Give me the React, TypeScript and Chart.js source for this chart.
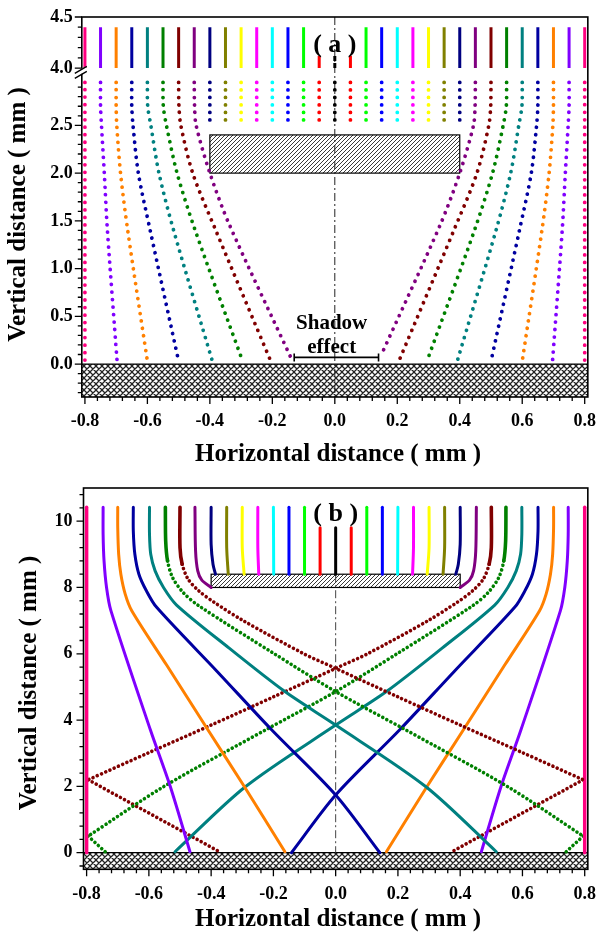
import React, { useEffect, useRef } from 'react';
import { Chart, registerables } from 'chart.js';

Chart.register(...registerables);

type P = [number, number];

// ---------- shared ----------
const PALETTE = ['#000000', '#FF0000', '#00FF00', '#0000FF', '#00FFFF', '#FF00FF', '#FFFF00', '#808000', '#000080', '#800080', '#800000', '#008000', '#008080', '#0000A0', '#FF8000', '#8000FF', '#FF0080'];
const X_MAJOR = [-0.8, -0.6, -0.4, -0.2, 0, 0.2, 0.4, 0.6, 0.8];
const X_MINOR = Array.from({ length: 41 }, (_, i) => -0.8 + i * 0.04);
const X_TITLE = 'Horizontal distance ( mm )';
const Y_TITLE = 'Vertical distance ( mm )';

// ---------- chart (a) ----------
const A_Y_MAJOR = [0, 0.5, 1.0, 1.5, 2.0, 2.5, 4.0, 4.5];
const A_Y_MINOR = [
  ...Array.from({ length: 33 }, (_, i) => -0.3 + i * 0.1),
  4.1, 4.2, 4.3, 4.4,
];
const A_TOP_X = [-0.8, -0.75, -0.7, -0.65, -0.6, -0.55, -0.5, -0.45, -0.4, -0.35, -0.3, -0.25, -0.2, -0.15, -0.1, -0.05, 0, 0.05, 0.1, 0.15, 0.2, 0.25, 0.3, 0.35, 0.4, 0.45, 0.5, 0.55, 0.6, 0.65, 0.7, 0.75, 0.8];
const A_TOP_FROM = 4.0;
const A_TOP_TO = [4.4, 4.4, 4.4, 4.4, 4.4, 4.4, 4.4, 4.4, 4.4, 4.4, 4.4, 4.4, 4.4, 4.4, 4.4, 4.12, 4.12, 4.12, 4.4, 4.4, 4.4, 4.4, 4.4, 4.4, 4.4, 4.4, 4.4, 4.4, 4.4, 4.4, 4.4, 4.4, 4.4];
const A_INNER_X = [-0.4, -0.35, -0.3, -0.25, -0.2, -0.15, -0.1, -0.05, 0, 0.05, 0.1, 0.15, 0.2, 0.25, 0.3, 0.35, 0.4];
const A_INNER_TOP = 2.95;
const A_INNER_BOTTOM = 2.5;
const A_OUTER_LEFT: P[][] = [
  [[-0.8, 2.95], [-0.8, 0.0]],
  [[-0.75, 2.95], [-0.75, 2.7], [-0.747, 2.5], [-0.738, 2.0], [-0.728, 1.4], [-0.697, 0.03]],
  [[-0.7, 2.95], [-0.7, 2.7], [-0.698, 2.5], [-0.686, 2.0], [-0.663, 1.4], [-0.6, 0.03]],
  [[-0.65, 2.95], [-0.65, 2.7], [-0.646, 2.5], [-0.629, 2.0], [-0.591, 1.4], [-0.5, 0.03]],
  [[-0.6, 2.95], [-0.599, 2.7], [-0.589, 2.5], [-0.563, 2.0], [-0.516, 1.4], [-0.392, 0.03]],
  [[-0.55, 2.95], [-0.549, 2.7], [-0.539, 2.5], [-0.505, 2.0], [-0.447, 1.4], [-0.295, 0.03]],
  [[-0.5, 2.95], [-0.499, 2.7], [-0.493, 2.5], [-0.455, 2.0], [-0.381, 1.4], [-0.205, 0.03]],
  [[-0.45, 2.95], [-0.449, 2.7], [-0.444, 2.5], [-0.4, 2.0], [-0.337, 1.455], [-0.142, 0.077]],
];
const A_OUTER_RIGHT: P[][] = [
  [[0.8, 2.95], [0.8, 0.0]],
  [[0.75, 2.95], [0.75, 2.7], [0.747, 2.5], [0.738, 2.0], [0.728, 1.4], [0.697, 0.03]],
  [[0.7, 2.95], [0.7, 2.7], [0.698, 2.5], [0.686, 2.0], [0.663, 1.4], [0.6, 0.03]],
  [[0.65, 2.95], [0.65, 2.7], [0.646, 2.5], [0.629, 2.0], [0.591, 1.4], [0.5, 0.03]],
  [[0.6, 2.95], [0.599, 2.7], [0.589, 2.5], [0.563, 2.0], [0.516, 1.4], [0.392, 0.03]],
  [[0.55, 2.95], [0.549, 2.7], [0.539, 2.5], [0.505, 2.0], [0.447, 1.4], [0.295, 0.03]],
  [[0.5, 2.95], [0.499, 2.7], [0.493, 2.5], [0.455, 2.0], [0.381, 1.4], [0.205, 0.03]],
  [[0.45, 2.95], [0.449, 2.7], [0.444, 2.5], [0.4, 2.0], [0.337, 1.455], [0.148, 0.09]],
];
const A_PLATE = { x: [-0.4, 0.4], y: [2.0, 2.4] };
const A_SUBSTRATE_TOP = 0;
const A_LABEL = { text: '( a )', x: 0, y: 4.225 };
const A_SHADOW_TEXT = ['Shadow', 'effect'];
const A_SHADOW_TEXT_Y = [0.426, 0.168];
const A_SHADOW_BRACKET = { x: [-0.13, 0.14], y: 0.07 };

// broken y-axis of (a): 4.0..4.5 shown just above 3.0
const T = (y: number) => (y > 3.5 ? 3.1 + (y - 4) * 1.07 : y);
const TINV = (v: number) => (v > 3.05 ? 4 + (v - 3.1) / 1.07 : v);

// ---------- chart (b) ----------
const B_Y_MAJOR = [0, 2, 4, 6, 8, 10];
const B_Y_MINOR = Array.from({ length: 29 }, (_, i) => -0.4 + i * 0.4);
const B_PATHS: P[][] = [
  // left-origin
  [[-0.8, 10.42], [-0.8, 0.0]],
  [[-0.747, 10.42], [-0.747, 9.6], [-0.744, 8.8], [-0.736, 8.0], [-0.722, 7.3], [-0.595, 3.7], [-0.531, 1.99], [-0.468, 0.03]],
  [[-0.7, 10.42], [-0.7, 9.8], [-0.697, 9.0], [-0.69, 8.4], [-0.676, 7.8], [-0.655, 7.3], [-0.543, 5.66], [-0.41, 3.7], [-0.293, 1.99], [-0.163, 0.03]],
  [[-0.65, 10.42], [-0.65, 9.7], [-0.645, 9.0], [-0.632, 8.4], [-0.608, 7.9], [-0.575, 7.4], [-0.38, 5.46], [-0.205, 3.7], [0, 1.74], [0.142, 0.0]],
  [[-0.598, 10.42], [-0.598, 9.6], [-0.594, 9.0], [-0.58, 8.5], [-0.553, 8.0], [-0.511, 7.47], [-0.342, 6.17], [-0.163, 4.86], [0, 3.85], [0.29, 1.99], [0.516, 0.03]],
  [[-0.547, 10.42], [-0.546, 9.4], [-0.54, 8.8], [-0.524, 8.3], [-0.49, 7.85], [-0.44, 7.45], [-0.197, 6.0], [0, 4.86], [0.226, 3.7], [0.553, 1.99], [0.795, 0.5]],
  [[-0.5, 10.42], [-0.5, 9.2], [-0.493, 8.7], [-0.474, 8.25], [-0.44, 7.9], [-0.39, 7.55], [-0.297, 7.0], [-0.102, 6.0], [0, 5.56], [0.2, 4.7], [0.4, 3.85], [0.6, 3.02], [0.795, 2.2]],
  [[-0.452, 10.42], [-0.45, 9.1], [-0.443, 8.5], [-0.43, 8.22], [-0.4, 8.0]],
  [[-0.4, 10.42], [-0.4, 9.3], [-0.394, 8.7], [-0.386, 8.4]],
  [[-0.35, 10.42], [-0.35, 9.2], [-0.345, 8.4]],
  [[-0.3, 10.42], [-0.3, 9.2], [-0.294, 8.4]],
  [[-0.25, 10.42], [-0.25, 9.2], [-0.247, 8.4]],
  [[-0.2, 10.42], [-0.199, 8.4]],
  [[-0.15, 10.42], [-0.15, 8.4]],
  [[-0.1, 10.42], [-0.1, 8.4]],
  [[-0.05, 9.8], [-0.05, 8.4]],
  [[0, 9.8], [0, 8.4]],
  // right-origin
  [[0.05, 9.8], [0.05, 8.4]],
  [[0.1, 10.42], [0.1, 8.4]],
  [[0.15, 10.42], [0.15, 8.4]],
  [[0.2, 10.42], [0.199, 8.4]],
  [[0.25, 10.42], [0.25, 9.2], [0.247, 8.4]],
  [[0.3, 10.42], [0.3, 9.2], [0.294, 8.4]],
  [[0.35, 10.42], [0.35, 9.2], [0.345, 8.4]],
  [[0.4, 10.42], [0.4, 9.3], [0.394, 8.7], [0.386, 8.4]],
  [[0.452, 10.42], [0.45, 9.1], [0.443, 8.5], [0.43, 8.22], [0.4, 8.0]],
  [[0.5, 10.42], [0.5, 9.2], [0.493, 8.7], [0.474, 8.25], [0.44, 7.9], [0.39, 7.55], [0.297, 7.0], [0.102, 6.0], [0, 5.56], [-0.2, 4.7], [-0.4, 3.85], [-0.6, 3.02], [-0.795, 2.2]],
  [[0.547, 10.42], [0.546, 9.4], [0.54, 8.8], [0.524, 8.3], [0.49, 7.85], [0.44, 7.45], [0.197, 6.0], [0, 4.86], [-0.226, 3.7], [-0.553, 1.99], [-0.795, 0.5]],
  [[0.598, 10.42], [0.598, 9.6], [0.594, 9.0], [0.58, 8.5], [0.553, 8.0], [0.511, 7.47], [0.342, 6.17], [0.163, 4.86], [0, 3.85], [-0.29, 1.99], [-0.516, 0.03]],
  [[0.65, 10.42], [0.65, 9.7], [0.645, 9.0], [0.632, 8.4], [0.608, 7.9], [0.575, 7.4], [0.38, 5.46], [0.205, 3.7], [0, 1.74], [-0.142, 0.0]],
  [[0.7, 10.42], [0.7, 9.8], [0.697, 9.0], [0.69, 8.4], [0.676, 7.8], [0.655, 7.3], [0.543, 5.66], [0.41, 3.7], [0.293, 1.99], [0.163, 0.03]],
  [[0.747, 10.42], [0.747, 9.6], [0.744, 8.8], [0.736, 8.0], [0.722, 7.3], [0.595, 3.7], [0.531, 1.99], [0.468, 0.03]],
  [[0.8, 10.42], [0.8, 0.0]],
];
// reflections at the side walls (green from 0.55, wine from 0.50)
const B_REFLECT: { from: number; path: P[] }[] = [
  { from: -0.55, path: [[0.795, 0.5], [0.737, 0.0]] },
  { from: 0.55, path: [[-0.795, 0.5], [-0.737, 0.0]] },
  { from: -0.5, path: [[0.795, 2.2], [0.379, 0.06]] },
  { from: 0.5, path: [[-0.795, 2.2], [-0.379, 0.06]] },
];
const B_DOTTED_START = [-0.55, -0.5, 0.5, 0.55];
const B_PLATE = { x: [-0.4, 0.4], y: [8.0, 8.4] };
const B_SUBSTRATE_TOP = 0;
const B_LABEL = { text: '( b )', x: 0, y: 10.21 };

// ---------- helpers ----------
const SERIF = '"Liberation Serif", "Times New Roman", serif';
const colorFor = (x: number) => PALETTE[Math.min(16, Math.round(Math.abs(x) / 0.05))];

function makePattern(kind: 'diag' | 'cross'): CanvasPattern | string {
  const s = kind === 'diag' ? 4 : 6;
  const c = document.createElement('canvas');
  c.width = s;
  c.height = s;
  const g = c.getContext('2d');
  if (!g) return '#888';
  g.fillStyle = '#fff';
  g.fillRect(0, 0, s, s);
  g.strokeStyle = '#222';
  g.lineWidth = kind === 'diag' ? 0.9 : 1.25;
  g.beginPath();
  g.moveTo(-1, s + 1); g.lineTo(s + 1, -1);
  g.moveTo(-1, 1); g.lineTo(1, -1);
  g.moveTo(s - 1, s + 1); g.lineTo(s + 1, s - 1);
  if (kind === 'cross') {
    g.moveTo(-1, -1); g.lineTo(s + 1, s + 1);
    g.moveTo(-1, s - 1); g.lineTo(1, s + 1);
    g.moveTo(s - 1, -1); g.lineTo(s + 1, 1);
  }
  g.stroke();
  const p = g.createPattern(c, 'repeat');
  return p || '#888';
}

function drawTicks(chart: any, xMaj: number[], xMin: number[], yMaj: number[], yMin: number[]) {
  const { ctx, chartArea: a, scales } = chart;
  const xs = scales.x, ys = scales.y;
  ctx.save();
  ctx.strokeStyle = '#000';
  ctx.lineWidth = 1.3;
  ctx.beginPath();
  xMin.forEach((v) => { const p = xs.getPixelForValue(v); ctx.moveTo(p, a.bottom); ctx.lineTo(p, a.bottom + 4); });
  xMaj.forEach((v) => { const p = xs.getPixelForValue(v); ctx.moveTo(p, a.bottom); ctx.lineTo(p, a.bottom + 7); });
  yMin.forEach((v) => { const p = ys.getPixelForValue(v); ctx.moveTo(a.left, p); ctx.lineTo(a.left - 4, p); });
  yMaj.forEach((v) => { const p = ys.getPixelForValue(v); ctx.moveTo(a.left, p); ctx.lineTo(a.left - 7, p); });
  ctx.stroke();
  ctx.lineWidth = 1.6;
  ctx.strokeRect(a.left, a.top, a.right - a.left, a.bottom - a.top);
  ctx.restore();
}

function drawTitles(ctx: CanvasRenderingContext2D, yt: { x: number; y: number }, xt: { x: number; y: number }) {
  ctx.save();
  ctx.fillStyle = '#000';
  ctx.font = `bold 25px ${SERIF}`;
  ctx.textAlign = 'center';
  ctx.textBaseline = 'middle';
  ctx.fillText(X_TITLE, xt.x, xt.y);
  ctx.translate(yt.x, yt.y);
  ctx.rotate(-Math.PI / 2);
  ctx.fillText(Y_TITLE, 0, 0);
  ctx.restore();
}

function drawBlock(ctx: CanvasRenderingContext2D, xs: any, ys: any, plate: { x: number[]; y: number[] }, fill: CanvasPattern | string) {
  const x0 = xs.getPixelForValue(plate.x[0]);
  const x1 = xs.getPixelForValue(plate.x[1]);
  const y0 = ys.getPixelForValue(plate.y[1]);
  const y1 = ys.getPixelForValue(plate.y[0]);
  ctx.fillStyle = fill;
  ctx.fillRect(x0, y0, x1 - x0, y1 - y0);
  ctx.strokeStyle = '#000';
  ctx.lineWidth = 1.2;
  ctx.strokeRect(x0, y0, x1 - x0, y1 - y0);
}

function scaleCommon(min: number, max: number, fitKey: 'width' | 'height', fitVal: number, majors: number[], pad: number, fmt: (v: number) => string) {
  return {
    type: 'linear' as const,
    min,
    max,
    afterFit: (s: any) => { s[fitKey] = fitVal; },
    afterBuildTicks: (s: any) => { s.ticks = majors.map((v) => ({ value: v })); },
    grid: { display: false, drawTicks: true, tickLength: 7 },
    border: { display: false },
    ticks: {
      autoSkip: false,
      maxRotation: 0,
      padding: pad,
      color: '#000',
      font: { family: SERIF, weight: 'bold' as const, size: 18 },
      callback: (v: any) => fmt(Number(v)),
    },
  };
}

function configA(diag: CanvasPattern | string, cross: CanvasPattern | string): any {
  const datasets: any[] = [];
  A_TOP_X.forEach((x, i) => {
    datasets.push({
      data: [{ x, y: T(A_TOP_FROM) }, { x, y: T(A_TOP_TO[i]) }],
      borderColor: colorFor(x), borderWidth: 3, pointRadius: 0, fill: false,
      borderDash: x === 0 ? [5, 2] : [],
    });
  });
  const dotted = { borderWidth: 3.8, borderCapStyle: 'round', borderDash: [0.001, 7.5], pointRadius: 0, fill: false };
  A_INNER_X.forEach((x) => {
    datasets.push({ data: [{ x, y: T(A_INNER_TOP) }, { x, y: T(A_INNER_BOTTOM) }], borderColor: colorFor(x), ...dotted });
  });
  [...A_OUTER_LEFT, ...A_OUTER_RIGHT].forEach((path) => {
    datasets.push({ data: path.map(([x, y]) => ({ x, y: T(y) })), borderColor: colorFor(path[0][0]), tension: 0.3, ...dotted });
  });

  const plugin = {
    id: 'decoA',
    beforeDatasetsDraw(chart: any) {
      const { ctx, chartArea: a, scales } = chart;
      const xs = scales.x, ys = scales.y;
      ctx.save();
      const ys0 = ys.getPixelForValue(T(A_SUBSTRATE_TOP));
      ctx.fillStyle = cross;
      ctx.fillRect(a.left, ys0, a.right - a.left, a.bottom - ys0);
      ctx.strokeStyle = '#000'; ctx.lineWidth = 1.2;
      ctx.beginPath(); ctx.moveTo(a.left, ys0); ctx.lineTo(a.right, ys0); ctx.stroke();
      drawBlock(ctx, xs, { getPixelForValue: (v: number) => ys.getPixelForValue(T(v)) }, A_PLATE, diag);
      const cx = xs.getPixelForValue(0);
      ctx.setLineDash([8, 3, 2, 3]);
      ctx.lineWidth = 1;
      ctx.strokeStyle = '#222';
      ctx.beginPath(); ctx.moveTo(cx, a.top); ctx.lineTo(cx, a.bottom); ctx.stroke();
      ctx.restore();
    },
    afterDatasetsDraw(chart: any) {
      const { ctx, chartArea: a, scales } = chart;
      const xs = scales.x, ys = scales.y;
      ctx.save();
      ctx.fillStyle = '#000';
      ctx.textAlign = 'center';
      ctx.textBaseline = 'middle';
      ctx.font = `bold 26px ${SERIF}`;
      ctx.fillText(A_LABEL.text, xs.getPixelForValue(A_LABEL.x), ys.getPixelForValue(T(A_LABEL.y)));
      ctx.font = `bold 21px ${SERIF}`;
      A_SHADOW_TEXT.forEach((t, i) => ctx.fillText(t, xs.getPixelForValue(-0.01), ys.getPixelForValue(T(A_SHADOW_TEXT_Y[i]))));
      const bx0 = xs.getPixelForValue(A_SHADOW_BRACKET.x[0]);
      const bx1 = xs.getPixelForValue(A_SHADOW_BRACKET.x[1]);
      const by = ys.getPixelForValue(T(A_SHADOW_BRACKET.y));
      ctx.strokeStyle = '#000'; ctx.lineWidth = 1.6;
      ctx.beginPath();
      ctx.moveTo(bx0, by); ctx.lineTo(bx1, by);
      ctx.moveTo(bx0, by - 4); ctx.lineTo(bx0, by + 4);
      ctx.moveTo(bx1, by - 4); ctx.lineTo(bx1, by + 4);
      ctx.stroke();
      ctx.restore();
      drawTicks(chart, X_MAJOR, X_MINOR, A_Y_MAJOR.map(T), A_Y_MINOR.map(T));
      // axis break marks
      const yb = (ys.getPixelForValue(T(3.0)) + ys.getPixelForValue(T(4.0))) / 2;
      ctx.save();
      ctx.fillStyle = '#fff';
      ctx.beginPath();
      ctx.moveTo(a.left - 6, yb + 4.5); ctx.lineTo(a.left + 4, yb - 1.5);
      ctx.lineTo(a.left + 4, yb - 6.5); ctx.lineTo(a.left - 6, yb - 0.5);
      ctx.closePath(); ctx.fill();
      ctx.strokeStyle = '#000'; ctx.lineWidth = 1.4;
      ctx.beginPath();
      ctx.moveTo(a.left - 7, yb + 5.5); ctx.lineTo(a.left + 5, yb - 1.5);
      ctx.moveTo(a.left - 7, yb + 0.5); ctx.lineTo(a.left + 5, yb - 6.5);
      ctx.stroke();
      ctx.restore();
      drawTitles(ctx, { x: 18.3, y: 214.5 }, { x: 338, y: 455 });
    },
  };

  return {
    type: 'line',
    data: { datasets },
    options: {
      responsive: false,
      animation: false,
      events: [],
      layout: { padding: { top: 17, right: 8.2, left: 0, bottom: 0 } },
      plugins: { legend: { display: false }, tooltip: { enabled: false }, title: { display: false } },
      scales: {
        x: scaleCommon(-0.81, 0.81, 'height', 73, X_MAJOR, 7, (v) => v.toFixed(1)),
        y: scaleCommon(-0.345, T(4.5), 'width', 81.8, A_Y_MAJOR.map(T), 2, (v) => TINV(v).toFixed(1)),
      },
    },
    plugins: [plugin],
  };
}

function configB(diag: CanvasPattern | string, cross: CanvasPattern | string): any {
  const datasets: any[] = [];
  B_PATHS.forEach((path) => {
    const x0 = path[0][0];
    const dotted = B_DOTTED_START.some((d) => Math.abs(d - x0) < 0.01);
    const ds: any = {
      data: path.map(([x, y]) => ({ x, y })),
      borderColor: colorFor(x0), borderWidth: Math.abs(x0) > 0.79 ? 3.5 : 3, pointRadius: 0, fill: false, tension: 0.3,
      borderCapStyle: 'round',
    };
    if (dotted) {
      ds.segment = { borderDash: (ctx: any) => (ctx.p1.parsed.y > 8.3 ? undefined : [0.001, 4.6]) };
      ds.borderWidth = 3.6;
    }
    datasets.push(ds);
  });
  B_REFLECT.forEach((r) => {
    datasets.push({
      data: r.path.map(([x, y]) => ({ x, y })),
      borderColor: colorFor(r.from), borderWidth: 3.6, borderCapStyle: 'round', borderDash: [0.001, 4.6],
      pointRadius: 0, fill: false, tension: 0,
    });
  });

  const plugin = {
    id: 'decoB',
    beforeDatasetsDraw(chart: any) {
      const { ctx, chartArea: a, scales } = chart;
      const xs = scales.x, ys = scales.y;
      ctx.save();
      const ys0 = ys.getPixelForValue(B_SUBSTRATE_TOP);
      ctx.fillStyle = cross;
      ctx.fillRect(a.left, ys0, a.right - a.left, a.bottom - ys0);
      ctx.strokeStyle = '#000'; ctx.lineWidth = 1.2;
      ctx.beginPath(); ctx.moveTo(a.left, ys0); ctx.lineTo(a.right, ys0); ctx.stroke();
      drawBlock(ctx, xs, ys, B_PLATE, diag);
      const cx = xs.getPixelForValue(0);
      ctx.setLineDash([8, 3, 2, 3]);
      ctx.lineWidth = 1;
      ctx.strokeStyle = '#444';
      ctx.beginPath(); ctx.moveTo(cx, ys.getPixelForValue(B_PLATE.y[1])); ctx.lineTo(cx, ys0); ctx.stroke();
      ctx.restore();
    },
    afterDatasetsDraw(chart: any) {
      const { ctx, scales } = chart;
      const xs = scales.x, ys = scales.y;
      ctx.save();
      ctx.fillStyle = '#000';
      ctx.textAlign = 'center';
      ctx.textBaseline = 'middle';
      ctx.font = `bold 26px ${SERIF}`;
      ctx.fillText(B_LABEL.text, xs.getPixelForValue(B_LABEL.x), ys.getPixelForValue(B_LABEL.y));
      ctx.restore();
      drawTicks(chart, X_MAJOR, X_MINOR, B_Y_MAJOR, B_Y_MINOR);
      drawTitles(ctx, { x: 30, y: 213 }, { x: 338, y: 450 });
    },
  };

  return {
    type: 'line',
    data: { datasets },
    options: {
      responsive: false,
      animation: false,
      events: [],
      layout: { padding: { top: 18, right: 6.5, left: 0, bottom: 0 } },
      plugins: { legend: { display: false }, tooltip: { enabled: false }, title: { display: false } },
      scales: {
        x: scaleCommon(-0.81, 0.81, 'height', 76.7, X_MAJOR, 7, (v) => v.toFixed(1)),
        y: scaleCommon(-0.5, 11.0, 'width', 83.5, B_Y_MAJOR, 4, (v) => String(Math.round(v))),
      },
    },
    plugins: [plugin],
  };
}

export default function App() {
  const refA = useRef<HTMLCanvasElement>(null);
  const refB = useRef<HTMLCanvasElement>(null);
  useEffect(() => {
    const diag = makePattern('diag');
    const cross = makePattern('cross');
    const a = new Chart(refA.current as HTMLCanvasElement, configA(diag, cross));
    const b = new Chart(refB.current as HTMLCanvasElement, configB(diag, cross));
    return () => {
      a.destroy();
      b.destroy();
    };
  }, []);
  return (
    <div style={{ position: 'absolute', left: 0, top: 0, width: 603, height: 946, background: '#fff' }}>
      <canvas ref={refA} width={603} height={470} style={{ display: 'block', width: 603, height: 470 }} />
      <canvas ref={refB} width={603} height={476} style={{ display: 'block', width: 603, height: 476 }} />
    </div>
  );
}
